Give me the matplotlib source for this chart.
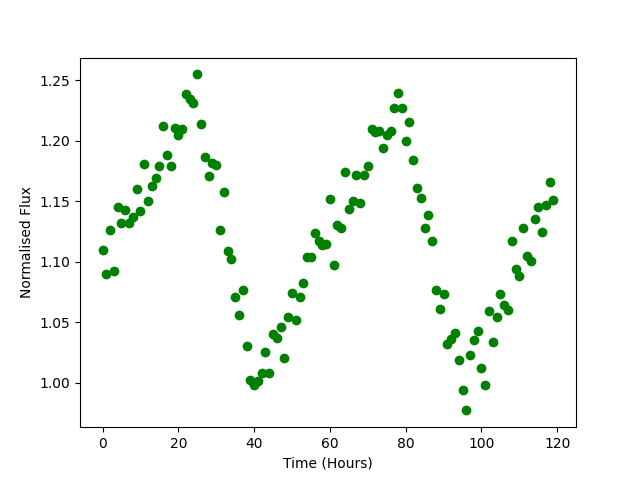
import numpy as np
from matplotlib import pyplot as plt

# hourly samples, flux
hours = np.arange(120)
flux = [1.110, 1.090, 1.126, 1.092, 1.145, 1.132, 1.143, 1.132, 1.137, 1.160,
        1.142, 1.181, 1.150, 1.163, 1.169, 1.179, 1.212, 1.188, 1.179, 1.211,
        1.205, 1.210, 1.239, 1.235, 1.231, 1.255, 1.214, 1.187, 1.171, 1.182,
        1.180, 1.126, 1.158, 1.109, 1.102, 1.071, 1.056, 1.077, 1.030, 1.002,
        0.998, 1.001, 1.008, 1.025, 1.008, 1.040, 1.037, 1.046, 1.020, 1.054,
        1.074, 1.052, 1.071, 1.082, 1.104, 1.104, 1.124, 1.117, 1.114, 1.115,
        1.152, 1.097, 1.130, 1.128, 1.174, 1.144, 1.150, 1.172, 1.149, 1.172,
        1.179, 1.210, 1.207, 1.208, 1.194, 1.205, 1.208, 1.227, 1.240, 1.227,
        1.200, 1.216, 1.184, 1.161, 1.153, 1.128, 1.139, 1.117, 1.077, 1.061,
        1.073, 1.032, 1.036, 1.041, 1.019, 0.994, 0.977, 1.023, 1.035, 1.043,
        1.012, 0.998, 1.059, 1.034, 1.054, 1.073, 1.064, 1.060, 1.117, 1.094,
        1.088, 1.128, 1.105, 1.101, 1.135, 1.145, 1.125, 1.147, 1.166, 1.151]

plt.figure(figsize=(6.4, 4.8), dpi=100)
plt.plot(hours, flux, 'go')
plt.xlabel('Time (Hours)')
plt.ylabel('Normalised Flux')
plt.savefig('out.png')
